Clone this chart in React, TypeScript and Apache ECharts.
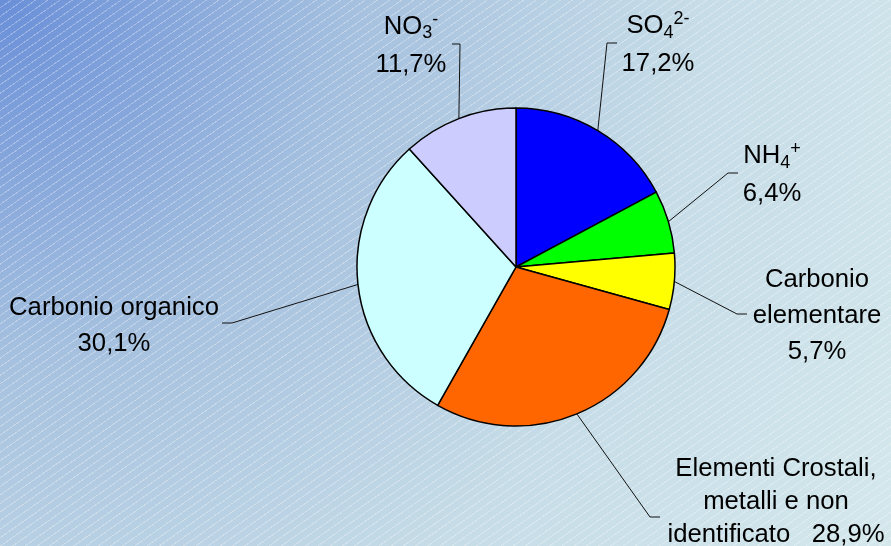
import React, { useEffect, useRef } from "react";
import * as echarts from "echarts";

// ---- data ----
const categories = [
  "SO4",
  "NH4",
  "Carbonio elementare",
  "Elementi Crostali, metalli e non identificato",
  "Carbonio organico",
  "NO3",
];
const values = [17.2, 6.4, 5.7, 28.9, 30.1, 11.7];
const colors = ["#0000FF", "#00FF00", "#FFFF00", "#FF6600", "#CCFFFF", "#CCCCFF"];
// label templates ({pct} replaced by the value)
const labelTemplates = [
  "{f|SO}{sub|4}{sup|2-}\n{f|{pct}}",
  "{f|NH}{sub|4}{sup|+}\n{f|{pct}}",
  "Carbonio\nelementare\n{pct}",
  "Elementi Crostali,\nmetalli e non\nidentificato   {pct}",
  "Carbonio organico\n{pct}",
  "{f|NO}{sub|3}{sup|-}\n{f|{pct}}",
];

// ---- layout ----
const CX = 516;
const CY = 267;
const R = 159;
const labelLayoutPos = [
  { x: 658, y: 43, bend: [607, 43], end: [617, 43], lh: 38 },
  { x: 772, y: 173, bend: [728, 173], end: [738, 173], lh: 38 },
  { x: 817, y: 314, bend: [737, 314], end: [747, 314], lh: 36 },
  { x: 776, y: 500, bend: [650, 517], end: [660, 517], lh: 33 },
  { x: 114, y: 323.5, bend: [232, 323], end: [222, 323], lh: 36 },
  { x: 411, y: 43.5, bend: [460, 44], end: [452, 44], lh: 38 },
];

const FONT = "'Liberation Sans', Arial, sans-serif";
const FS = 25.7;

const fmtPct = (v: number) => v.toFixed(1).replace(".", ",") + "%";

export default function App() {
  const ref = useRef<HTMLDivElement>(null);
  useEffect(() => {
    if (!ref.current) return;
    const chart = echarts.init(ref.current, undefined, { renderer: "svg" });
    const total = values.reduce((a, b) => a + b, 0);
    const cum: number[] = [];
    let acc = 0;
    values.forEach((v) => {
      cum.push(acc);
      acc += v;
    });

    const data = categories.map((name, i) => ({
      name,
      value: values[i],
      itemStyle: { color: colors[i] },
      label: {
        formatter: labelTemplates[i].replace("{pct}", fmtPct(values[i])),
        lineHeight: labelLayoutPos[i].lh,
      },
    }));

    chart.setOption({
      animation: false,
      backgroundColor: "transparent",
      series: [
        {
          type: "pie",
          center: [CX, CY],
          radius: R,
          startAngle: 90,
          clockwise: true,
          data,
          itemStyle: { borderColor: "#000", borderWidth: 1.5 },
          label: {
            show: true,
            position: "outside",
            fontSize: FS,
            fontFamily: FONT,
            color: "#000",
            align: "center",
            rich: {
              f: { fontSize: FS, lineHeight: 38, fontFamily: FONT, color: "#000" },
              sub: { fontSize: 18, padding: [15, 0, 0, 0], fontFamily: FONT, color: "#000" },
              sup: { fontSize: 18, padding: [0, 0, 12, 0], fontFamily: FONT, color: "#000" },
            },
          },
          labelLine: {
            show: true,
            lineStyle: { color: "#111", width: 1 },
          },
          labelLayout: (params: any) => {
            const i = params.dataIndex;
            const p = labelLayoutPos[i];
            const a = ((cum[i] + values[i] / 2) / total) * Math.PI * 2;
            const edge = [CX + R * Math.sin(a), CY - R * Math.cos(a)];
            return {
              x: p.x,
              y: p.y,
              align: "center",
              verticalAlign: "middle",
              labelLinePoints: [edge, p.bend, p.end],
            };
          },
          emphasis: { disabled: true },
        },
      ],
    });
    return () => chart.dispose();
  }, []);

  return (
    <div
      style={{
        position: "fixed",
        left: 0,
        top: 0,
        width: 891,
        height: 546,
        background:
          "repeating-linear-gradient(145deg, rgba(255,255,255,0) 0px, rgba(255,255,255,0) 6px, rgba(255,255,255,0.3) 6px, rgba(255,255,255,0.3) 7px), radial-gradient(circle at 0 0, #6a8fd8 0px, #a6c1df 360px, #c6dce7 700px, #d4e8ec 1050px)",
      }}
    >
      <div ref={ref} style={{ width: 891, height: 546 }} />
    </div>
  );
}
